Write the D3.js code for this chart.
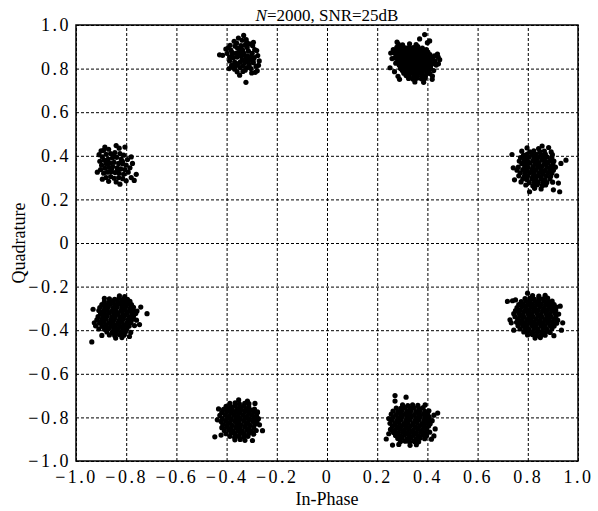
<!DOCTYPE html>
<html>
<head>
<meta charset="utf-8">
<script src="https://cdnjs.cloudflare.com/ajax/libs/d3/7.8.5/d3.min.js"></script>
<style>
  body { margin: 0; background: #fff; }
  text { font-family: "Liberation Serif", "DejaVu Serif", serif; fill: #000; }
</style>
</head>
<body>
<svg width="598" height="511"></svg>
<script>
// tick values and their labels
var tickValues = [-1, -0.8, -0.6, -0.4, -0.2, 0, 0.2, 0.4, 0.6, 0.8, 1];
var tickLabels = ["\u22121.0", "\u22120.8", "\u22120.6", "\u22120.4", "\u22120.2", "0", "0.2", "0.4", "0.6", "0.8", "1.0"];

// centre of each cluster (In-Phase, Quadrature)
var centresI = [-0.338, 0.339, -0.840, 0.837, -0.837, 0.829, -0.347, 0.331];
var centresQ = [0.845, 0.826, 0.355, 0.335, -0.344, -0.340, -0.821, -0.835];

// offsets of the received symbols around each centre
var offsetsA = [[-.090,.018],[-.078,.016],[.006,.107],[.015,-.108],
  [-.055,.050],[-.048,.062],[-.040,.030],[-.036,.005],[-.050,-.010],[-.042,-.030],[-.030,-.048],[-.022,.072],[-.018,.048],[-.025,.025],[-.012,.030],[-.020,.008],[-.030,-.015],[-.015,-.022],[-.008,-.040],[-.020,-.060],[-.005,.060],[.002,.040],[.008,.022],[-.003,.012],[.000,-.005],[.010,-.018],[.004,-.032],[.012,-.052],[.018,.075],[.020,.052],[.025,.035],[.022,.012],[.030,-.002],[.018,-.010],[.028,-.028],[.035,-.045],[.042,.060],[.040,.025],[.048,.005],[.045,-.018],[.055,-.035],[.060,-.055],[.050,.042],[.062,.015],[.038,-.065],[-.010,-.075],[.000,.085],[-.045,.040],[-.060,.025],[-.035,-.040],[.030,.068],[-.028,.058],[.015,.005],[-.008,-.015],[.005,.028],[-.015,.015],[.025,-.015],[.035,.010],[.010,.062],[-.040,.015],[.052,-.062],[.065,-.030],[.058,.038],[-.026,-.033],[.003,-.058],[.020,-.040],[-.004,.045],[.044,-.005],[-.050,.008],[.016,.088],[-.032,.080],
  [-.065,.045],[.068,-.010],[-.052,-.045],[.045,.075],[-.015,.095]];

var offsetsB = [[-.055,.086],[-.038,.083],[-.010,.088],[.016,.084],
  [-.061,.071],[-.044,.074],[-.027,.069],[-.011,.073],[.005,.070],[.023,.075],[.041,.068],
  [-.066,.059],[-.049,.062],[-.035,.057],[-.019,.061],[-.004,.058],[.011,.063],[.027,.059],[.043,.056],[.057,.061],
  [-.071,.047],[-.054,.050],[-.041,.045],[-.025,.049],[-.013,.046],[.004,.050],[.019,.045],[.032,.049],[.049,.046],[.063,.050],
  [-.063,.035],[-.047,.038],[-.035,.033],[-.019,.037],[-.007,.034],[.009,.038],[.023,.033],[.039,.037],[.053,.034],[.071,.038],[.089,.033],
  [-.069,.023],[-.051,.026],[-.039,.021],[-.023,.025],[-.011,.022],[.006,.026],[.019,.021],[.035,.025],[.049,.022],[.065,.026],[.081,.021],[.104,.027],
  [-.057,.011],[-.045,.014],[-.029,.009],[-.017,.013],[-.001,.010],[.013,.014],[.026,.009],[.043,.013],[.055,.010],[.073,.014],[.091,.009],
  [-.065,-.001],[-.047,.002],[-.035,-.003],[-.019,.001],[-.005,-.002],[.009,.002],[.021,-.003],[.039,.001],[.051,-.002],[.067,.002],[.083,-.003],
  [-.051,-.011],[-.041,-.014],[-.025,-.010],[-.013,-.013],[.003,-.011],[.015,-.014],[.031,-.010],[.044,-.013],[.061,-.011],[.074,-.014],[.096,-.010],
  [-.088,-.022],[-.046,-.025],[-.029,-.021],[-.017,-.026],[-.001,-.023],[.012,-.027],[.029,-.022],[.042,-.025],[.059,-.021],[.073,-.026],
  [-.039,-.035],[-.026,-.038],[-.009,-.034],[.004,-.037],[.021,-.035],[.034,-.038],[.051,-.034],[.065,-.037],[.086,-.035],
  [-.033,-.047],[-.019,-.050],[-.003,-.046],[.011,-.049],[.028,-.047],[.041,-.050],[.059,-.046],[.071,-.049],
  [-.056,-.061],[-.024,-.058],[-.011,-.062],[.007,-.059],[.021,-.061],[.039,-.058],[.053,-.062],[.081,-.060],
  [-.014,-.071],[.003,-.074],[.019,-.070],[.037,-.073],[.051,-.071],
  [.011,-.087],[.046,-.089],
  [.050,.130],[.070,.101],[.061,.093],[-.060,.096],[-.075,.061],[.105,-.004],[.101,.041],
  [-.080,.020],[-.085,.045],[.110,.015],[.080,-.075],[-.050,-.075],[.030,.110],[-.070,-.040]];

var offsetsC = [[-.060,.068],[-.050,.070],[.000,.092],[.012,.080],[-.030,.075],
  [-.055,.040],[-.040,.052],[-.022,.055],[-.005,.060],[.015,.055],[.030,.048],
  [-.065,.020],[-.048,.025],[-.032,.030],[-.015,.035],[.002,.038],[.020,.030],[.045,.028],[.060,.040],
  [-.058,.002],[-.040,.008],[-.024,.012],[-.008,.015],[.010,.010],[.026,.008],[.040,.002],
  [-.062,-.018],[-.045,-.012],[-.030,-.008],[-.014,-.004],[.004,-.010],[.018,-.015],[.034,-.018],[.055,-.010],
  [-.050,-.035],[-.035,-.030],[-.020,-.028],[-.004,-.032],[.012,-.035],[.030,-.040],[.048,-.030],
  [-.040,-.055],[-.022,-.050],[-.008,-.058],[.010,-.055],[.026,-.060],[.060,-.055],
  [-.055,-.062],[-.030,-.072],[.000,-.075],[.015,-.085],[.040,-.070],[.072,-.068],
  [-.010,.045],[-.035,.010],[.005,-.020],[.025,.020],[-.018,-.015],[.065,.010],[-.068,.050],
  [-.075,-.030],[.080,-.040],[-.045,.085],[.035,.085]];

var offsetsD = [[-.040,.101],[.006,.098],[.046,.103],
  [-.061,.086],[-.029,.083],[-.013,.088],[.011,.084],[.029,.087],[.056,.083],
  [-.100,.071],[-.054,.068],[-.039,.073],[-.019,.069],[-.003,.072],[.017,.068],[.033,.073],[.061,.070],
  [-.066,.057],[-.047,.054],[-.031,.059],[-.011,.055],[.005,.058],[.025,.054],[.041,.059],[.059,.056],
  [-.071,.041],[-.051,.044],[-.037,.040],[-.017,.043],[.001,.041],[.019,.045],[.034,.040],[.053,.043],[.067,.041],[.115,.045],
  [-.061,.029],[-.043,.026],[-.029,.031],[-.009,.027],[.007,.030],[.027,.026],[.043,.031],[.063,.028],
  [-.075,.013],[-.049,.016],[-.035,.012],[-.015,.015],[.003,.013],[.019,.016],[.039,.012],[.055,.015],[.073,.013],
  [-.080,-.001],[-.057,.002],[-.041,-.002],[-.021,.001],[-.005,-.001],[.015,.002],[.031,-.002],[.051,.001],[.065,-.001],
  [-.067,-.013],[-.049,-.016],[-.029,-.012],[-.013,-.015],[.007,-.013],[.023,-.016],[.043,-.012],[.059,-.015],
  [-.073,-.027],[-.051,-.030],[-.037,-.026],[-.017,-.029],[.001,-.027],[.017,-.030],[.037,-.026],[.054,-.029],[.078,-.027],
  [-.057,-.041],[-.041,-.044],[-.021,-.040],[-.005,-.043],[.015,-.041],[.031,-.044],[.051,-.041],
  [-.064,-.055],[-.031,-.058],[-.011,-.054],[.005,-.057],[.025,-.055],[.039,-.058],[.062,-.056],
  [-.045,-.069],[-.017,-.072],[.001,-.068],[.021,-.071],[.034,-.069],
  [-.010,-.084],[.016,-.087],[.065,-.091],[.090,-.100],
  [-.095,.010],[-.090,-.045],[.095,.030],[.085,-.060],[-.030,-.100],[.020,.110]];

var offsetsE = [[.010,.101],[.031,.098],
  [-.030,.088],[-.009,.086],[.008,.090],[.026,.087],[.042,.085],
  [-.050,.075],[-.031,.073],[-.015,.077],[.003,.074],[.021,.076],[.037,.073],[.052,.076],
  [-.060,.062],[-.043,.060],[-.026,.064],[-.009,.061],[.008,.063],[.026,.060],[.041,.064],[.058,.061],
  [-.068,.048],[-.049,.046],[-.034,.050],[-.015,.047],[.000,.049],[.019,.046],[.035,.050],[.053,.047],[.066,.049],
  [-.072,.034],[-.054,.032],[-.038,.036],[-.019,.033],[-.004,.035],[.015,.032],[.030,.036],[.049,.033],[.064,.035],[.080,.032],
  [-.065,.020],[-.047,.018],[-.030,.022],[-.011,.019],[.004,.021],[.023,.018],[.040,.022],[.059,.019],[.075,.021],[.120,.020],
  [-.075,.006],[-.057,.004],[-.040,.008],[-.021,.005],[-.006,.007],[.013,.004],[.030,.008],[.049,.005],[.066,.007],
  [-.080,-.008],[-.061,-.010],[-.044,-.006],[-.025,-.009],[-.010,-.007],[.009,-.010],[.026,-.006],[.045,-.009],[.060,-.007],[.078,-.010],
  [-.090,-.022],[-.069,-.024],[-.052,-.020],[-.033,-.023],[-.016,-.021],[.003,-.024],[.020,-.020],[.039,-.023],[.056,-.021],
  [-.085,-.036],[-.059,-.038],[-.042,-.034],[-.023,-.037],[-.006,-.035],[.013,-.038],[.030,-.034],[.049,-.037],[.070,-.035],
  [-.072,-.050],[-.049,-.052],[-.032,-.048],[-.013,-.051],[.004,-.049],[.023,-.052],[.040,-.048],
  [-.040,-.064],[-.019,-.066],[-.002,-.062],[.017,-.065],[.034,-.063],[.055,-.066],
  [-.030,-.078],[-.009,-.080],[.010,-.076],[.028,-.079],
  [-.005,-.092],[.020,-.090],
  [-.100,-.110],
  [-.095,.040],[.095,.050],[.090,-.030],[-.060,-.080],[.050,-.085],[-.050,.090]];

var offsetsF = [[-.010,.099],[.015,.096],[.040,.100],
  [-.040,.085],[-.021,.087],[-.004,.083],[.015,.086],[.032,.084],[.050,.087],
  [-.110,.072],[-.090,.075],[-.078,.079],[-.055,.071],[-.037,.074],[-.020,.070],[-.001,.073],[.016,.071],[.035,.074],[.052,.070],[.068,.073],
  [-.065,.058],[-.047,.060],[-.030,.056],[-.011,.059],[.006,.057],[.025,.060],[.042,.056],[.061,.059],[.076,.057],
  [-.072,.044],[-.053,.046],[-.036,.042],[-.017,.045],[.000,.043],[.019,.046],[.036,.042],[.055,.045],[.070,.043],[.085,.046],
  [-.078,.030],[-.059,.032],[-.042,.028],[-.023,.031],[-.006,.029],[.013,.032],[.030,.028],[.049,.031],[.066,.029],[.082,.032],
  [-.085,.016],[-.065,.018],[-.048,.014],[-.029,.017],[-.012,.015],[.007,.018],[.024,.014],[.043,.017],[.060,.015],[.079,.018],[.094,.014],
  [-.080,.002],[-.061,.004],[-.044,.000],[-.025,.003],[-.008,.001],[.011,.004],[.028,.000],[.047,.003],[.064,.001],[.083,.004],
  [-.100,-.012],[-.069,-.010],[-.052,-.014],[-.033,-.011],[-.016,-.013],[.003,-.010],[.020,-.014],[.039,-.011],[.056,-.013],[.075,-.010],[.090,-.014],
  [-.095,-.026],[-.074,-.024],[-.058,-.028],[-.039,-.025],[-.022,-.027],[-.003,-.024],[.014,-.028],[.033,-.025],[.050,-.027],[.069,-.024],[.086,-.028],[.110,-.026],
  [-.068,-.040],[-.049,-.038],[-.032,-.042],[-.013,-.039],[.004,-.041],[.023,-.038],[.040,-.042],[.059,-.039],[.076,-.041],
  [-.060,-.054],[-.041,-.052],[-.024,-.056],[-.005,-.053],[.012,-.055],[.031,-.052],[.048,-.056],[.067,-.053],
  [-.045,-.068],[-.027,-.066],[-.010,-.070],[.009,-.067],[.026,-.069],[.045,-.066],[.060,-.070],
  [-.030,-.082],[-.011,-.080],[.006,-.084],[.025,-.081],[.040,-.083],
  [.000,-.096],[.021,-.094],
  [-.085,-.060],[.100,.050],[.105,-.060],[-.030,.110],[.075,-.085]];

var offsetsG = [[-.005,.101],[.030,.096],
  [-.040,.085],[-.019,.088],[-.002,.083],[.019,.086],[.036,.084],
  [-.055,.072],[-.037,.070],[-.020,.074],[-.001,.071],[.016,.073],[.035,.070],[.070,.046],
  [-.065,.058],[-.047,.060],[-.030,.056],[-.011,.059],[.006,.057],[.025,.060],[.042,.056],[.058,.059],
  [-.072,.044],[-.053,.046],[-.036,.042],[-.017,.045],[.000,.043],[.019,.046],[.036,.042],[.055,.045],[.070,.043],
  [-.080,.030],[-.059,.032],[-.042,.028],[-.023,.031],[-.006,.029],[.013,.032],[.030,.028],[.049,.031],[.066,.029],
  [-.070,.016],[-.051,.018],[-.034,.014],[-.015,.017],[.002,.015],[.021,.018],[.038,.014],[.057,.017],[.074,.015],
  [-.075,.002],[-.057,.004],[-.040,.000],[-.021,.003],[-.004,.001],[.015,.004],[.032,.000],[.051,.003],[.068,.001],
  [-.068,-.012],[-.049,-.010],[-.032,-.014],[-.013,-.011],[.004,-.013],[.023,-.010],[.040,-.014],[.059,-.011],[.078,-.013],
  [-.072,-.026],[-.053,-.024],[-.036,-.028],[-.017,-.025],[.000,-.027],[.019,-.024],[.036,-.028],[.055,-.025],
  [-.062,-.040],[-.043,-.038],[-.026,-.042],[-.007,-.039],[.010,-.041],[.029,-.038],[.046,-.042],[.065,-.039],
  [-.055,-.054],[-.035,-.052],[-.018,-.056],[.001,-.053],[.018,-.055],[.037,-.052],[.055,-.056],
  [-.100,-.068],[-.040,-.066],[-.021,-.070],[-.004,-.067],[.015,-.069],[.032,-.066],
  [-.020,-.082],[.001,-.080],[.020,-.084],
  [-.085,.060],[.090,-.040],[-.075,-.060],[.050,-.085],[.060,.085],[-.090,.010]];

var offsetsH = [[-.060,.135],[-.016,.128],
  [-.030,.092],[-.009,.089],[.010,.093],[.031,.090],[.060,.092],
  [-.055,.078],[-.037,.076],[-.020,.080],[-.001,.077],[.016,.079],[.035,.076],[.052,.080],
  [-.068,.064],[-.049,.062],[-.032,.066],[-.013,.063],[.004,.065],[.023,.062],[.040,.066],[.059,.063],[.075,.065],
  [-.075,.050],[-.055,.048],[-.038,.052],[-.019,.049],[-.002,.051],[.017,.048],[.034,.052],[.053,.049],[.070,.051],[.110,.055],
  [-.068,.036],[-.049,.034],[-.032,.038],[-.013,.035],[.004,.037],[.023,.034],[.040,.038],[.059,.035],[.076,.037],
  [-.072,.022],[-.053,.020],[-.036,.024],[-.017,.021],[.000,.023],[.019,.020],[.036,.024],[.055,.021],[.072,.023],[.088,.020],
  [-.080,.008],[-.061,.006],[-.044,.010],[-.025,.007],[-.008,.009],[.011,.006],[.028,.010],[.047,.007],[.064,.009],[.080,.006],
  [-.070,-.006],[-.051,-.008],[-.034,-.004],[-.015,-.007],[.002,-.005],[.021,-.008],[.038,-.004],[.057,-.007],[.074,-.005],
  [-.078,-.020],[-.059,-.022],[-.042,-.018],[-.023,-.021],[-.006,-.019],[.013,-.022],[.030,-.018],[.049,-.021],[.066,-.019],[.100,-.018],
  [-.066,-.034],[-.047,-.036],[-.030,-.032],[-.011,-.035],[.006,-.033],[.025,-.036],[.042,-.032],[.061,-.035],[.078,-.033],
  [-.058,-.048],[-.039,-.050],[-.022,-.046],[-.003,-.049],[.014,-.047],[.033,-.050],[.050,-.046],[.066,-.049],
  [-.095,-.064],[-.049,-.062],[-.032,-.060],[-.013,-.063],[.004,-.061],[.023,-.064],[.040,-.060],[.058,-.063],
  [-.038,-.076],[-.019,-.074],[-.002,-.078],[.017,-.075],[.034,-.077],
  [-.070,-.092],[-.045,-.089],[.000,-.093],[.025,-.090],
  [-.085,.030],[.095,.045],[-.060,.110],[.085,-.065],[.095,-.050],[-.085,-.040]];

var clusterOffsets = [offsetsA, offsetsB, offsetsC, offsetsD, offsetsE, offsetsF, offsetsG, offsetsH];

// the svg and its plot area
var svg = d3.select("svg"),
    margin = {top: 25, right: 20, bottom: 50, left: 76},
    width = +svg.attr("width") - margin.left - margin.right,
    height = +svg.attr("height") - margin.top - margin.bottom;

var x = d3.scaleLinear().domain([-1, 1]).range([0, width]),
    y = d3.scaleLinear().domain([-1, 1]).range([height, 0]);

var g = svg.append("g")
    .attr("transform", "translate(" + margin.left + "," + margin.top + ")");

// x axis with dashed grid lines
var xAxis = g.append("g")
    .attr("transform", "translate(0," + height + ")")
    .call(d3.axisBottom(x).tickValues(tickValues).tickSize(-height).tickPadding(9)
      .tickFormat(function(d, i) { return tickLabels[i]; }));

// y axis with dashed grid lines
var yAxis = g.append("g")
    .call(d3.axisLeft(y).tickValues(tickValues).tickSize(-width).tickPadding(5)
      .tickFormat(function(d, i) { return tickLabels[i]; }));

[xAxis, yAxis].forEach(function(a) {
  a.select(".domain").remove();
  a.selectAll(".tick line")
      .attr("stroke", "#000")
      .attr("stroke-width", 1)
      .attr("stroke-dasharray", "3,2");
  a.selectAll(".tick text")
      .style("font-family", "'Liberation Serif', serif")
      .style("font-size", "18px")
      .style("letter-spacing", "2.5px")
      .attr("fill", "#000");
});

// flatten the clusters into points
var points = [];
clusterOffsets.forEach(function(offs, k) {
  offs.forEach(function(o) {
    points.push({i: centresI[k] + o[0], q: centresQ[k] + o[1]});
  });
});

g.selectAll(".dot")
    .data(points)
  .enter().append("circle")
    .attr("class", "dot")
    .attr("cx", function(d) { return x(d.i); })
    .attr("cy", function(d) { return y(d.q); })
    .attr("r", 2.6)
    .attr("fill", "#000");

// frame
g.append("rect")
    .attr("width", width)
    .attr("height", height)
    .attr("fill", "none")
    .attr("stroke", "#000")
    .attr("stroke-width", 1.5);

// title
var title = svg.append("text")
    .attr("x", margin.left + width / 2)
    .attr("y", 21)
    .attr("text-anchor", "middle")
    .style("font-size", "17px");
title.append("tspan").style("font-style", "italic").text("N");
title.append("tspan").text("=2000, SNR=25dB");

// axis labels
svg.append("text")
    .attr("x", margin.left + width / 2)
    .attr("y", 505)
    .attr("text-anchor", "middle")
    .style("font-size", "18px")
    .text("In-Phase");

svg.append("text")
    .attr("transform", "translate(25," + (margin.top + height / 2) + ") rotate(-90)")
    .attr("text-anchor", "middle")
    .style("font-size", "18px")
    .text("Quadrature");
</script>
</body>
</html>
